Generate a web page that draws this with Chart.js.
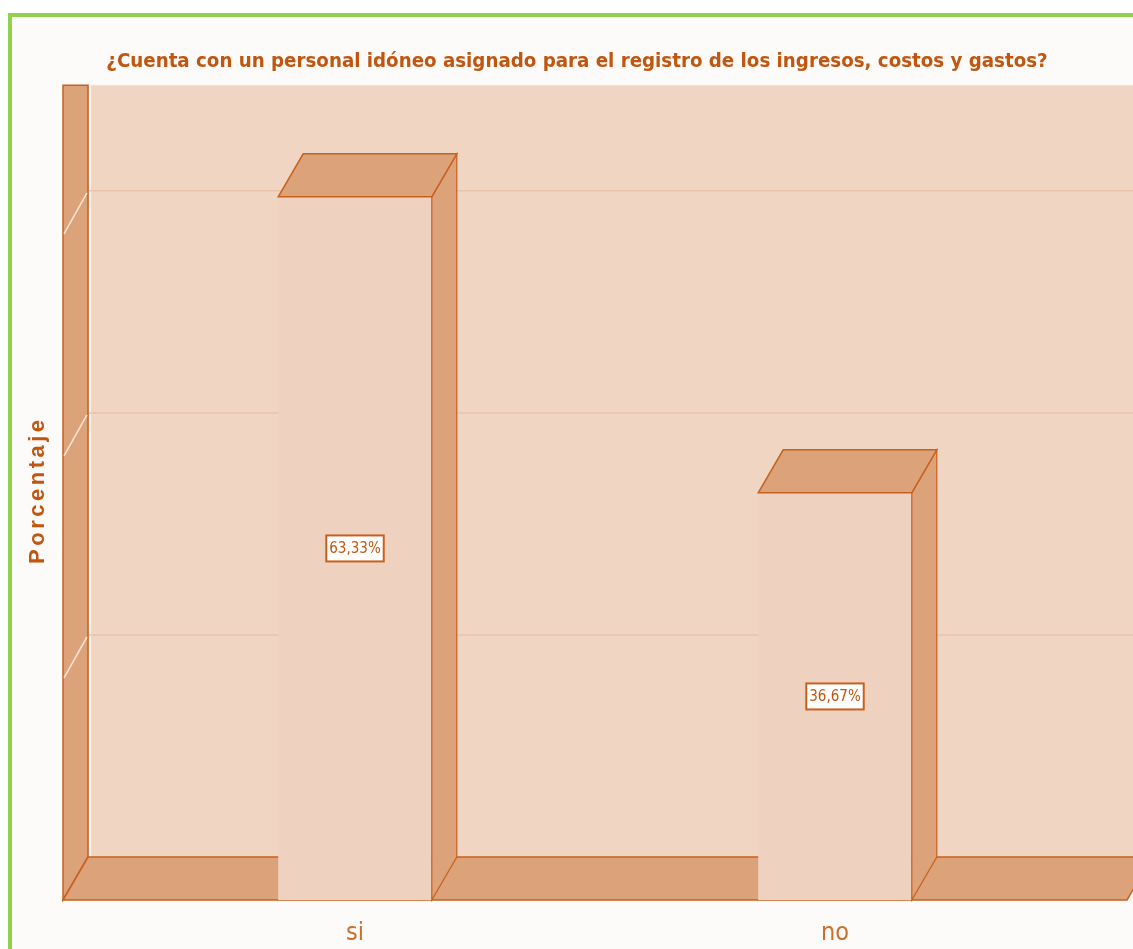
<!DOCTYPE html>
<html lang="es">
<head>
    <meta charset="UTF-8">
    <title>Personal idóneo — Porcentaje</title>
    <script src="https://cdn.jsdelivr.net/npm/chart.js"></script>
    <style>
        html, body {
            margin: 0;
            padding: 0;
            width: 1133px;
            height: 949px;
            overflow: hidden;
            background: #ffffff;
        }

        .frame {
            position: absolute;
            left: 8px;
            top: 13px;
            width: 1200px;
            height: 1000px;
            border-left: 4px solid #92d050;
            border-top: 4px solid #92d050;
            background: #fdfbf9;
        }

        #chart {
            position: absolute;
            left: 0;
            top: 0;
        }
    </style>
</head>
<body>
    <div class="frame"></div>
    <canvas id="chart" width="1133" height="949"></canvas>

    <script>
        const chartTitle = '¿Cuenta con un personal idóneo asignado para el registro de los ingresos, costos y gastos?';
        const yAxisTitle = 'Porcentaje';
        const categories = ['si', 'no'];
        const percentages = [63.33, 36.67];
        const gridValues = [20, 40, 60];
        const yMax = 69.5;

        // colores y profundidad del efecto 3D
        const wallColor = '#f0d5c3';
        const sideColor = '#dca27a';
        const edgeColor = '#c8601c';
        const frontColor = '#eed2bf';
        const textColor = '#c0560f';
        const depthX = 25;
        const depthY = -43;
        const sideMargin = 52;
        const narrowFont = '"Liberation Sans Narrow", "DejaVu Sans Condensed", sans-serif';

        function fmt(v) {
            return v.toFixed(2).replace('.', ',') + '%';
        }

        function poly(ctx, pts, fill, stroke, lw) {
            ctx.beginPath();
            ctx.moveTo(pts[0][0], pts[0][1]);
            for (let i = 1; i < pts.length; i++) ctx.lineTo(pts[i][0], pts[i][1]);
            ctx.closePath();
            if (fill) { ctx.fillStyle = fill; ctx.fill(); }
            if (stroke) { ctx.strokeStyle = stroke; ctx.lineWidth = lw || 1.5; ctx.stroke(); }
        }

        const box3d = {
            id: 'box3d',
            beforeDatasetsDraw(chart) {
                const ctx = chart.ctx;
                const area = chart.chartArea;
                const y = chart.scales.y;
                const L = area.left - sideMargin;
                const R = area.right + sideMargin;
                const B = area.bottom;
                const T = area.top + depthY;

                ctx.save();
                // pared del fondo
                poly(ctx, [[L + depthX, T], [R + depthX, T], [R + depthX, B + depthY], [L + depthX, B + depthY]], wallColor);
                ctx.strokeStyle = 'rgba(255,255,255,0.8)';
                ctx.lineWidth = 2;
                ctx.beginPath();
                ctx.moveTo(L + depthX + 2, T);
                ctx.lineTo(L + depthX + 2, B + depthY);
                ctx.stroke();

                // líneas de cuadrícula
                gridValues.forEach(v => {
                    const py = y.getPixelForValue(v);
                    ctx.strokeStyle = '#e8c3ab';
                    ctx.lineWidth = 1.5;
                    ctx.beginPath();
                    ctx.moveTo(L + depthX, py + depthY);
                    ctx.lineTo(R + depthX, py + depthY);
                    ctx.stroke();
                });

                // pared izquierda
                poly(ctx, [[L, T], [L + depthX, T], [L + depthX, B + depthY], [L, B]], sideColor, edgeColor, 1.5);
                gridValues.forEach(v => {
                    const py = y.getPixelForValue(v);
                    ctx.strokeStyle = 'rgba(255,240,230,0.85)';
                    ctx.lineWidth = 1.5;
                    ctx.beginPath();
                    ctx.moveTo(L + depthX - 1, py + depthY + 2);
                    ctx.lineTo(L + 1, py);
                    ctx.stroke();
                });

                // piso
                poly(ctx, [[L, B], [R, B], [R + depthX, B + depthY], [L + depthX, B + depthY]], sideColor, edgeColor, 1.5);
                ctx.restore();
            },
            afterDatasetsDraw(chart) {
                const ctx = chart.ctx;
                const meta = chart.getDatasetMeta(0);
                ctx.save();
                meta.data.forEach((bar, i) => {
                    const p = bar.getProps(['x', 'y', 'base', 'width'], true);
                    const left = p.x - p.width / 2;
                    const right = p.x + p.width / 2;
                    // cara lateral
                    poly(ctx, [[right, p.y], [right + depthX, p.y + depthY], [right + depthX, p.base + depthY], [right, p.base]], sideColor, edgeColor, 1.2);
                    // cara superior
                    poly(ctx, [[left, p.y], [left + depthX, p.y + depthY], [right + depthX, p.y + depthY], [right, p.y]], sideColor, edgeColor, 1.5);

                    // etiqueta de valor
                    const txt = fmt(percentages[i]);
                    ctx.font = '15px ' + narrowFont;
                    const w = ctx.measureText(txt).width + 6;
                    const h = 26;
                    const cy = (p.y + p.base) / 2;
                    ctx.fillStyle = '#ffffff';
                    ctx.fillRect(p.x - w / 2, cy - h / 2, w, h);
                    ctx.strokeStyle = edgeColor;
                    ctx.lineWidth = 2;
                    ctx.strokeRect(p.x - w / 2, cy - h / 2, w, h);
                    ctx.fillStyle = textColor;
                    ctx.textAlign = 'center';
                    ctx.textBaseline = 'middle';
                    ctx.fillText(txt, p.x, cy + 1);
                });
                ctx.restore();
            },
            afterDraw(chart) {
                const ctx = chart.ctx;
                const area = chart.chartArea;
                ctx.save();
                ctx.translate(38, (area.top + area.bottom) / 2 - 24);
                ctx.rotate(-Math.PI / 2);
                ctx.font = 'bold 22px "Liberation Sans", Arial, sans-serif';
                ctx.letterSpacing = '3.5px';
                ctx.fillStyle = textColor;
                ctx.textAlign = 'center';
                ctx.textBaseline = 'middle';
                ctx.fillText(yAxisTitle, 0, 0);
                ctx.restore();
            }
        };

        new Chart(document.getElementById('chart'), {
            type: 'bar',
            data: {
                labels: categories,
                datasets: [{
                    data: percentages,
                    backgroundColor: frontColor,
                    borderWidth: 0,
                    barPercentage: 0.32,
                    categoryPercentage: 1.0
                }]
            },
            options: {
                responsive: false,
                animation: false,
                layout: { padding: { left: 79, right: 58, top: 0, bottom: 0 } },
                plugins: {
                    legend: { display: false },
                    tooltip: { enabled: false },
                    title: {
                        display: true,
                        text: chartTitle,
                        color: textColor,
                        font: { family: narrowFont, size: 20.3, weight: 'bold' },
                        padding: { top: 50, bottom: 54 }
                    }
                },
                scales: {
                    x: {
                        grid: { display: false },
                        border: { display: false },
                        ticks: {
                            color: '#cc6e2c',
                            padding: 10,
                            font: { family: narrowFont, size: 25 }
                        },
                        afterFit: (scale) => { scale.height = 49; }
                    },
                    y: {
                        min: 0,
                        max: yMax,
                        grid: { display: false },
                        border: { display: false },
                        ticks: { display: false },
                        afterFit: (scale) => { scale.width = 36; }
                    }
                }
            },
            plugins: [box3d]
        });
    </script>
</body>
</html>
